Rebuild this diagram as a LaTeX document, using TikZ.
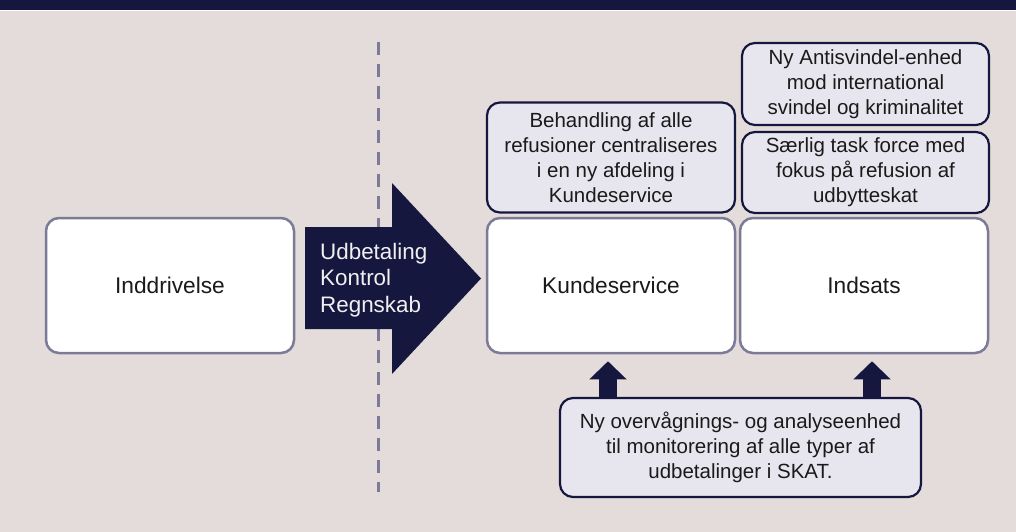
\documentclass[tikz,border=0pt]{standalone}
\usepackage{fontspec}
\setmainfont{Liberation Sans}
\usetikzlibrary{arrows.meta,calc}
\definecolor{navy}{HTML}{15173F}
\definecolor{bgc}{HTML}{E4DCDA}
\definecolor{rim}{HTML}{7B7B98}
\definecolor{pale}{HTML}{E7E6EE}
\definecolor{ink}{HTML}{1A1A1A}
\tikzset{
  txt/.style={text=ink, font=\fontsize{20.5}{25}\selectfont, align=center, inner sep=0pt},
  unit/.style={txt, font=\fontsize{22.7}{27}\selectfont, draw=rim, fill=white, line width=2.5pt,
    rounded corners=13pt, minimum width=248pt, minimum height=135pt},
  note/.style={txt, draw=navy, fill=pale, line width=2.2pt, rounded corners=13pt},
  uparrow/.style={draw=navy, line width=18pt, -{Triangle[width=36pt,length=18pt]}},
  divider/.style={draw=rim, line width=3pt, dash pattern=on 13pt off 9pt},
}
\begin{document}
\begin{tikzpicture}[x=1pt,y=-1pt]
\useasboundingbox (0,0) rectangle (1016,532);
\fill[bgc] (0,0) rectangle (1016,532);
\fill[navy] (0,0) rectangle (1016,10);
\fill[white] (0,10) rectangle (1016,11.5);

\coordinate (dtop) at (378,42);
\coordinate (dbot) at (378,492);
\draw[divider] (dtop) -- (dbot);

\node[unit] (indd) at (170,285.5) {Inddrivelse};
\node[unit] (kunde) at (611,285.5) {Kundeservice};
\node[unit] (indsats) at (864,285.5) {Indsats};

\node[note, minimum width=248pt, minimum height=110pt] (behand) at (611,157.5)
  {Behandling af alle\\refusioner centraliseres\\i en ny afdeling i\\Kundeservice};
\node[note, minimum width=247pt, minimum height=82pt] (anti) at (865.5,84)
  {Ny Antisvindel-enhed\\mod international\\svindel og kriminalitet};
\node[note, minimum width=247pt, minimum height=81pt] (saer) at (865.5,172.5)
  {Særlig task force med\\fokus på refusion af\\udbytteskat};
\node[note, minimum width=361pt, minimum height=99pt] (overv) at (740.5,447.5)
  {Ny overvågnings- og analyseenhed\\til monitorering af alle typer af\\udbetalinger i SKAT.};

% big arrow
\fill[navy] (305,227) -- (392,227) -- (392,183) -- (481,278.5) -- (392,374) -- (392,329) -- (305,329) -- cycle;
\node[txt, text=white!94!black, align=left, anchor=west,
  font=\fontsize{22.4}{26.5}\selectfont] (flow) at (320,280) {Udbetaling\\Kontrol\\Regnskab};

% up arrows
\draw[uparrow] ($(overv.north -| kunde.south)+(-3,1)$) -- ($(kunde.south)+(-3,7)$);
\draw[uparrow] ($(overv.north -| indsats.south)+(8,1)$) -- ($(indsats.south)+(8,7)$);
\end{tikzpicture}
\end{document}
